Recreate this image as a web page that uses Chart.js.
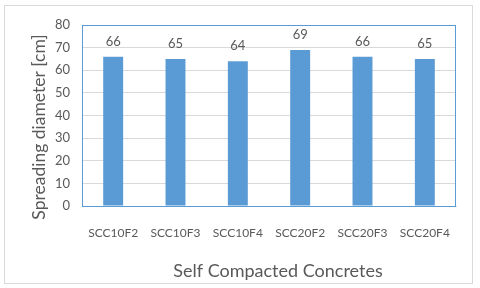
<!DOCTYPE html>
<html>
<head>
<meta charset="utf-8">
<script src="https://cdn.jsdelivr.net/npm/chart.js@4"></script>
<style>
  html, body { margin: 0; padding: 0; background: #fff; }
  #wrap { width: 480px; height: 288px; }
</style>
</head>
<body>
<div id="wrap"><canvas id="spreadChart" width="480" height="288"></canvas></div>
<script>
const categories = ['SCC10F2', 'SCC10F3', 'SCC10F4', 'SCC20F2', 'SCC20F3', 'SCC20F4'];
const spreading = [66, 65, 64, 69, 66, 65];
const yTicks = [0, 10, 20, 30, 40, 50, 60, 70, 80];

const FONT = 'Lato, "Open Sans", sans-serif';
const TEXT = '#595959';

// cadre, étiquettes de valeurs et titres des axes
const decor = {
    id: 'decor',
    beforeDraw(chart) {
        const ctx = chart.ctx;
        ctx.save();
        ctx.strokeStyle = '#d9d9d9';
        ctx.lineWidth = 1;
        ctx.strokeRect(4.5, 5.5, 468, 278);
        ctx.restore();
    },
    afterDatasetsDraw(chart) {
        const ctx = chart.ctx;
        const a = chart.chartArea;
        ctx.save();
        ctx.strokeStyle = '#5b9bd5';
        ctx.lineWidth = 1;
        ctx.strokeRect(Math.round(a.left) + 0.5, Math.round(a.top) + 0.5,
            Math.round(a.right - a.left) - 1, Math.round(a.bottom - a.top));
        ctx.fillStyle = TEXT;
        ctx.font = '13px ' + FONT;
        ctx.textAlign = 'center';
        ctx.textBaseline = 'middle';
        chart.getDatasetMeta(0).data.forEach((bar, i) => {
            ctx.fillText(spreading[i], bar.x, bar.y - 15);
        });
        ctx.font = '18px ' + FONT;
        ctx.fillText('Self Compacted Concretes', 278, 271);
        ctx.font = '17.5px ' + FONT;
        ctx.translate(39, 127);
        ctx.rotate(-Math.PI / 2);
        ctx.fillText('Spreading diameter [cm]', 0, 0);
        ctx.restore();
    }
};

new Chart(document.getElementById('spreadChart'), {
    type: 'bar',
    data: {
        labels: categories,
        datasets: [{
            data: spreading,
            backgroundColor: '#5b9bd5',
            barPercentage: 0.32,
            categoryPercentage: 1
        }]
    },
    options: {
        responsive: false,
        animation: false,
        layout: { padding: { left: 5, top: 25, right: 24, bottom: 3 } },
        plugins: { legend: { display: false }, tooltip: { enabled: false } },
        scales: {
            x: {
                grid: { display: false },
                border: { color: '#d9d9d9' },
                ticks: { color: TEXT, font: { family: FONT, size: 12 }, padding: 12, maxRotation: 0 },
                afterFit(scale) { scale.height = 79; }
            },
            y: {
                min: 0,
                max: 80,
                afterBuildTicks(scale) { scale.ticks = yTicks.map(v => ({ value: v })); },
                grid: { color: '#d9d9d9', drawTicks: false },
                border: { display: false },
                ticks: { color: TEXT, font: { family: FONT, size: 13 }, padding: 12 },
                afterFit(scale) { scale.width = 77; }
            }
        }
    },
    plugins: [decor]
});
</script>
</body>
</html>
